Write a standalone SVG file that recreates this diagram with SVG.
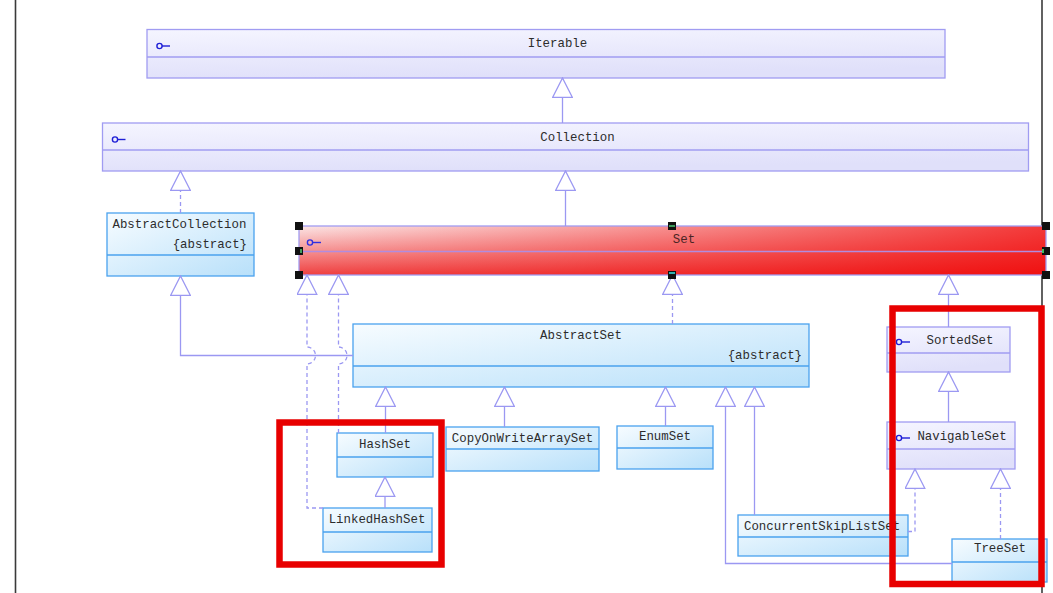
<svg xmlns="http://www.w3.org/2000/svg" width="1053" height="593" viewBox="0 0 1053 593">
<style>
.iface{fill:url(#gI);stroke:#a09cf2;stroke-width:1.3}
.cls{fill:url(#gC);stroke:#4aa2ee;stroke-width:1.3}
.divI{stroke:#a09cf2;stroke-width:1.3}
.divC{stroke:#4aa2ee;stroke-width:1.3}
.t{font-family:"Liberation Mono","DejaVu Sans Mono",monospace;font-size:12.4px;fill:#2c2c2c}
.m{text-anchor:middle}
.e{text-anchor:end}
.icon{fill:none;stroke:#1f1fd6;stroke-width:1.4}
.c{fill:none;stroke:#9b98f2;stroke-width:1.3}
.d{stroke-dasharray:4 3}
.h{fill:#111}
.red{fill:none;stroke:#e80000;stroke-width:6.5}
</style>
<defs>
<linearGradient id="gI" x1="0" y1="0" x2="0.3" y2="1">
<stop offset="0" stop-color="#f5f5ff"/><stop offset="1" stop-color="#e0e0fa"/>
</linearGradient>
<linearGradient id="gC" x1="0" y1="0" x2="1" y2="1">
<stop offset="0" stop-color="#f7fcff"/><stop offset="1" stop-color="#b8e0fa"/>
</linearGradient>
<linearGradient id="gSv" x1="0" y1="0" x2="0" y2="1">
<stop offset="0" stop-color="#fbe6e6"/><stop offset="1" stop-color="#ef4040"/>
</linearGradient>
<linearGradient id="gSh" x1="0" y1="0" x2="1" y2="0">
<stop offset="0" stop-color="#f00000" stop-opacity="0"/><stop offset="1" stop-color="#f00000" stop-opacity="0.75"/>
</linearGradient>
<marker id="tri" viewBox="0 0 21 21" refX="20" refY="10.5" markerWidth="21" markerHeight="21" markerUnits="userSpaceOnUse" orient="auto">
<path d="M0.7,0.7 L20,10.5 L0.7,20.3 Z" fill="#fff" stroke="#9b98f2" stroke-width="1.3" stroke-dasharray="none"/>
</marker>
</defs>
<rect width="1053" height="593" fill="#fff"/>
<line x1="15.5" y1="0" x2="15.5" y2="593" stroke="#3a3a3a" stroke-width="1.6"/>
<line x1="1042" y1="0" x2="1042" y2="593" stroke="#3a3a3a" stroke-width="1.6"/>

<g id="iterable">
<rect class="iface" x="147" y="29.5" width="798" height="48.5"/>
<line class="divI" x1="147" y1="57" x2="945" y2="57"/>
<circle class="icon" cx="159.5" cy="46" r="2.6"/><line class="icon" x1="162" y1="46" x2="170" y2="46"/>
<text class="t m" x="557.5" y="47">Iterable</text>
</g>
<g id="collection">
<rect class="iface" x="102.5" y="123" width="926" height="48"/>
<line class="divI" x1="102.5" y1="150" x2="1028.5" y2="150"/>
<circle class="icon" cx="115" cy="139.5" r="2.6"/><line class="icon" x1="117.5" y1="139.5" x2="125.5" y2="139.5"/>
<text class="t m" x="577.5" y="140.5">Collection</text>
</g>
<g id="abstractcollection">
<rect class="cls" x="107" y="213" width="147" height="63"/>
<line class="divC" x1="107" y1="255" x2="254" y2="255"/>
<text class="t" x="112.5" y="228">AbstractCollection</text>
<text class="t e" x="247" y="247.5">{abstract}</text>
</g>
<g id="set">
<rect x="299" y="226" width="747" height="49" fill="url(#gSv)"/>
<rect x="299" y="226" width="747" height="49" fill="url(#gSh)" stroke="#a09cf2" stroke-width="1.3"/>
<line x1="299" y1="251.5" x2="1046" y2="251.5" stroke="#b08ce0" stroke-width="1.5"/>
<circle cx="310" cy="242.5" r="2.6" fill="none" stroke="#3030e0" stroke-width="1.4"/><line x1="312.5" y1="242.5" x2="321" y2="242.5" stroke="#3030e0" stroke-width="1.4"/>
<text class="t m" x="684" y="243" style="fill:#4a2424">Set</text>
</g>
<g id="abstractset">
<rect class="cls" x="353" y="324" width="456" height="63"/>
<line class="divC" x1="353" y1="366" x2="809" y2="366"/>
<text class="t m" x="581" y="338.5">AbstractSet</text>
<text class="t e" x="802" y="358.5">{abstract}</text>
</g>
<g id="hashset">
<rect class="cls" x="337" y="433" width="96" height="44"/>
<line class="divC" x1="337" y1="457" x2="433" y2="457"/>
<text class="t m" x="385" y="448">HashSet</text>
</g>
<g id="linkedhashset">
<rect class="cls" x="323" y="508" width="109" height="44"/>
<line class="divC" x1="323" y1="532" x2="432" y2="532"/>
<text class="t m" x="377" y="523">LinkedHashSet</text>
</g>
<g id="copyonwritearrayset">
<rect class="cls" x="446" y="427" width="153" height="44"/>
<line class="divC" x1="446" y1="449" x2="599" y2="449"/>
<text class="t m" x="522.5" y="442">CopyOnWriteArraySet</text>
</g>
<g id="enumset">
<rect class="cls" x="617" y="426" width="96" height="43"/>
<line class="divC" x1="617" y1="448" x2="713" y2="448"/>
<text class="t m" x="665" y="440">EnumSet</text>
</g>
<g id="concurrentskiplistset">
<rect class="cls" x="738" y="515" width="170" height="41"/>
<line class="divC" x1="738" y1="537" x2="908" y2="537"/>
<text class="t" x="744" y="529.5">ConcurrentSkipListSet</text>
</g>
<g id="sortedset">
<rect class="iface" x="887" y="327" width="123" height="45"/>
<line class="divI" x1="887" y1="353" x2="1010" y2="353"/>
<circle class="icon" cx="899" cy="342" r="2.6"/><line class="icon" x1="901.5" y1="342" x2="910" y2="342"/>
<text class="t m" x="960" y="343.5">SortedSet</text>
</g>
<g id="navigableset">
<rect class="iface" x="887" y="422" width="128" height="47"/>
<line class="divI" x1="887" y1="449" x2="1015" y2="449"/>
<circle class="icon" cx="899" cy="438" r="2.6"/><line class="icon" x1="901.5" y1="438" x2="910" y2="438"/>
<text class="t m" x="962" y="440">NavigableSet</text>
</g>
<g id="treeset">
<rect class="cls" x="952" y="539" width="95" height="43"/>
<line class="divC" x1="952" y1="562" x2="1047" y2="562"/>
<text class="t m" x="1000" y="552">TreeSet</text>
</g>

<g id="connectors">
<path class="c" d="M562.5 123 V78" marker-end="url(#tri)"/>
<path class="c" d="M565.5 226 V171" marker-end="url(#tri)"/>
<path class="c d" d="M180.5 213 V171" marker-end="url(#tri)"/>
<path class="c" d="M353 355.5 H180.5 V276" marker-end="url(#tri)"/>
<path class="c d" d="M323 508 H307 V364 A8.5 8.5 0 0 0 307 347 V275" marker-end="url(#tri)"/>
<path class="c d" d="M338.5 433 V364 A8.5 8.5 0 0 0 338.5 347 V275" marker-end="url(#tri)"/>
<path class="c d" d="M672.5 324 V275" marker-end="url(#tri)"/>
<path class="c" d="M948.5 327 V275" marker-end="url(#tri)"/>
<path class="c" d="M385.5 433 V387" marker-end="url(#tri)"/>
<path class="c" d="M504.5 427 V387" marker-end="url(#tri)"/>
<path class="c" d="M665.5 426 V387" marker-end="url(#tri)"/>
<path class="c" d="M952 563.5 H725.5 V387" marker-end="url(#tri)"/>
<path class="c" d="M754.5 515 V387" marker-end="url(#tri)"/>
<path class="c" d="M385 508 V477" marker-end="url(#tri)"/>
<path class="c" d="M948.5 422 V372" marker-end="url(#tri)"/>
<path class="c d" d="M908 531.5 H915 V469" marker-end="url(#tri)"/>
<path class="c d" d="M1000.5 539 V469" marker-end="url(#tri)"/>
</g>

<g id="handles">
<rect class="h" x="295" y="222" width="8" height="8"/>
<rect class="h" x="295" y="247" width="8" height="8"/>
<rect class="h" x="295" y="271" width="8" height="8"/>
<rect class="h" x="668" y="222" width="8" height="8"/>
<rect class="h" x="668" y="271" width="8" height="8"/>
<rect class="h" x="1042" y="222" width="8" height="8"/>
<rect class="h" x="1042" y="247" width="8" height="8"/>
<rect class="h" x="1042" y="271" width="8" height="8"/>
<rect x="669" y="225" width="6" height="2" fill="#3c9a5a"/>
<rect x="669" y="272" width="6" height="2" fill="#30b0b0"/>
<rect x="1042" y="249" width="2" height="4" fill="#40c060"/>
<rect x="300" y="249" width="2" height="4" fill="#40a060"/>
</g>

<g id="highlights">
<rect class="red" x="279.5" y="422.5" width="162" height="142"/>
<rect class="red" x="892.5" y="308.5" width="149" height="275.5"/>
</g>
</svg>
